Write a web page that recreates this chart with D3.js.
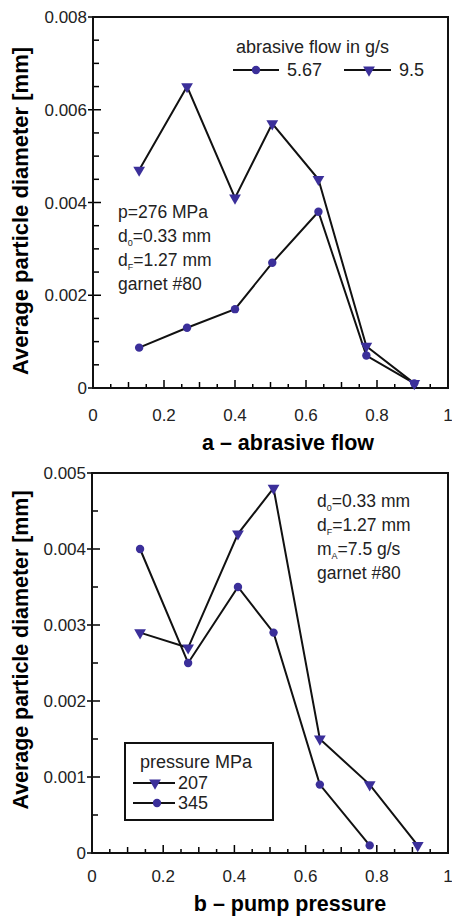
<!DOCTYPE html>
<html>
<head>
<meta charset="utf-8">
<script src="https://cdn.jsdelivr.net/npm/d3@7"></script>
<style>
  html, body { margin: 0; padding: 0; background: #fff; }
  svg { display: block; font-family: Arial, "Liberation Sans", Helvetica, sans-serif; }
</style>
</head>
<body>
<svg id="chart" width="452" height="916"></svg>
<script>
// ---------- data ----------
const xTicks = [0, 0.2, 0.4, 0.6, 0.8, 1];
const xTickLabels = ["0", "0.2", "0.4", "0.6", "0.8", "1"];

// chart a – abrasive flow
const xA = [0.13, 0.265, 0.4, 0.505, 0.635, 0.77, 0.905];
const flow567 = [0.00087, 0.0013, 0.0017, 0.0027, 0.0038, 0.0007, 0.0001];
const flow95  = [0.0047, 0.0065, 0.0041, 0.0057, 0.0045, 0.0009, 0.0001];
const yTicksA = [0, 0.002, 0.004, 0.006, 0.008];
const yTickLabelsA = ["0", "0.002", "0.004", "0.006", "0.008"];
const legendA = ["5.67", "9.5"];

// chart b – pump pressure
const xB = [0.135, 0.27, 0.41, 0.51, 0.64, 0.78, 0.915];
const press207 = [0.0029, 0.0027, 0.0042, 0.0048, 0.0015, 0.0009, 0.0001];
const press345 = [0.0040, 0.0025, 0.0035, 0.0029, 0.0009, 0.0001];
const yTicksB = [0, 0.001, 0.002, 0.003, 0.004, 0.005];
const yTickLabelsB = ["0", "0.001", "0.002", "0.003", "0.004", "0.005"];
const legendB = ["207", "345"];

// ---------- drawing ----------
const svg = d3.select("#chart");
const MARK = "#3b2f9a";
const triSym = d3.symbol().type(d3.symbolTriangle).size(60);
const cirR = 4.2;

function drawTri(g, x, y) {
  g.append("path").attr("d", triSym())
    .attr("transform", `translate(${x},${y}) rotate(180)`)
    .attr("fill", MARK);
}
function drawCir(g, x, y) {
  g.append("circle").attr("cx", x).attr("cy", y).attr("r", cirR).attr("fill", MARK);
}

function panel(opt) {
  const g = svg.append("g");
  const x = d3.scaleLinear().domain([0, 1]).range([opt.left, opt.right]);
  const y = d3.scaleLinear().domain([0, opt.ymax]).range([opt.bottom, opt.top]);

  // minor/major x ticks (inward)
  const xMinor = d3.range(0, 1.0001, 0.05);
  g.append("g").selectAll("line").data(xMinor).join("line")
    .attr("x1", d => x(d)).attr("x2", d => x(d))
    .attr("y1", opt.bottom)
    .attr("y2", (d, i) => opt.bottom - (i % 4 === 0 ? 8 : (i % 2 === 0 ? 6 : 4)))
    .attr("stroke", "#000").attr("stroke-width", 1.5);

  // y ticks
  const yMinor = d3.range(0, opt.ymax + 1e-9, 0.0005);
  const majorStep = opt.ymajor;
  const isMajor = d => Math.abs(d / majorStep - Math.round(d / majorStep)) < 1e-6;
  g.append("g").selectAll("line").data(yMinor).join("line")
    .attr("x1", d => isMajor(d) ? opt.left - 5 : opt.left)
    .attr("x2", d => opt.left + (isMajor(d) ? 8 : 6))
    .attr("y1", d => y(d)).attr("y2", d => y(d))
    .attr("stroke", "#000").attr("stroke-width", 1.5);

  // frame
  g.append("rect")
    .attr("x", opt.left).attr("y", opt.top)
    .attr("width", opt.right - opt.left).attr("height", opt.bottom - opt.top)
    .attr("fill", "none").attr("stroke", "#111").attr("stroke-width", 2);

  // tick labels
  g.append("g").selectAll("text").data(xTicks).join("text")
    .attr("x", d => x(d)).attr("y", opt.bottom + opt.xLabOff)
    .attr("text-anchor", "middle").attr("font-size", 17).attr("fill", "#222")
    .text((d, i) => xTickLabels[i]);
  g.append("g").selectAll("text").data(opt.yTicks).join("text")
    .attr("x", opt.left - 6).attr("y", d => y(d) + 6)
    .attr("text-anchor", "end").attr("font-size", 17).attr("fill", "#222")
    .text((d, i) => opt.yLabels[i]);

  // axis titles
  g.append("text")
    .attr("x", opt.xTitleX).attr("y", opt.xTitleY)
    .attr("text-anchor", "middle").attr("font-size", 21.5).attr("font-weight", "bold")
    .text(opt.xTitle);
  g.append("text")
    .attr("transform", `translate(28,${opt.yTitleY}) rotate(-90)`)
    .attr("text-anchor", "middle").attr("font-size", opt.yTitleSize).attr("font-weight", "bold")
    .text("Average particle diameter [mm]");

  // series
  const line = d3.line().x(d => x(d[0])).y(d => y(d[1]));
  opt.series.forEach(s => {
    const pts = s.values.map((v, i) => [s.xs[i], v]);
    g.append("path").datum(pts).attr("d", line)
      .attr("fill", "none").attr("stroke", "#111").attr("stroke-width", 2);
  });
  opt.series.forEach(s => {
    s.values.forEach((v, i) => {
      if (s.shape === "tri") drawTri(g, x(s.xs[i]), y(v));
      else drawCir(g, x(s.xs[i]), y(v));
    });
  });
  return { g, x, y };
}

// ---- panel a ----
const A = panel({
  left: 93, right: 448, top: 17, bottom: 388, ymax: 0.008, ymajor: 0.002,
  yTicks: yTicksA, yLabels: yTickLabelsA, xLabOff: 33,
  xTitle: "a – abrasive flow", xTitleX: 288, xTitleY: 450,
  yTitleY: 211, yTitleSize: 22,
  series: [
    { values: flow567, xs: xA, shape: "cir" },
    { values: flow95, xs: xA, shape: "tri" }
  ]
});

// annotation
function annot(g, x0, y0, lines) {
  lines.forEach((ln, i) => {
    const t = g.append("text").attr("x", x0).attr("y", y0 + i * 24)
      .attr("font-size", 17.5).attr("fill", "#222");
    ln.forEach(part => {
      const ts = t.append("tspan").text(part.t);
      if (part.sub) ts.attr("font-size", 9).attr("baseline-shift", "-4");
    });
  });
}
annot(A.g, 118, 218, [
  [{ t: "p=276 MPa" }],
  [{ t: "d" }, { t: "0", sub: true }, { t: "=0.33 mm" }],
  [{ t: "d" }, { t: "F", sub: true }, { t: "=1.27 mm" }],
  [{ t: "garnet #80" }]
]);

// legend a
A.g.append("text").attr("x", 236).attr("y", 53).attr("font-size", 18).attr("fill", "#222")
  .text("abrasive flow in g/s");
[[233, 279, 256, "cir", 287], [344, 391, 369, "tri", 399]].forEach((c, i) => {
  A.g.append("line").attr("x1", c[0]).attr("x2", c[1]).attr("y1", 70).attr("y2", 70)
    .attr("stroke", "#111").attr("stroke-width", 2);
  if (c[3] === "tri") drawTri(A.g, c[2], 70); else drawCir(A.g, c[2], 70);
  A.g.append("text").attr("x", c[4]).attr("y", 76).attr("font-size", 18).attr("fill", "#222")
    .text(legendA[i]);
});

// ---- panel b ----
const B = panel({
  left: 92, right: 448, top: 473, bottom: 853, ymax: 0.005, ymajor: 0.001,
  yTicks: yTicksB, yLabels: yTickLabelsB, xLabOff: 29,
  xTitle: "b – pump pressure", xTitleX: 290, xTitleY: 911,
  yTitleY: 650, yTitleSize: 21.4,
  series: [
    { values: press207, xs: xB, shape: "tri" },
    { values: press345, xs: xB, shape: "cir" }
  ]
});

annot(B.g, 317, 507, [
  [{ t: "d" }, { t: "0", sub: true }, { t: "=0.33 mm" }],
  [{ t: "d" }, { t: "F", sub: true }, { t: "=1.27 mm" }],
  [{ t: "m" }, { t: "A", sub: true }, { t: "=7.5 g/s" }],
  [{ t: "garnet #80" }]
]);

// legend b (boxed)
B.g.append("rect").attr("x", 125).attr("y", 743).attr("width", 148).attr("height", 77)
  .attr("fill", "#fff").attr("stroke", "#111").attr("stroke-width", 2);
B.g.append("text").attr("x", 140).attr("y", 768).attr("font-size", 18).attr("fill", "#222")
  .text("pressure MPa");
[[783, "tri"], [803, "cir"]].forEach((r, i) => {
  B.g.append("line").attr("x1", 133).attr("x2", 175).attr("y1", r[0]).attr("y2", r[0])
    .attr("stroke", "#111").attr("stroke-width", 2);
  if (r[1] === "tri") drawTri(B.g, 155, r[0]); else drawCir(B.g, 157, r[0]);
  B.g.append("text").attr("x", 178).attr("y", r[0] + 6).attr("font-size", 18).attr("fill", "#222")
    .text(legendB[i]);
});
</script>
</body>
</html>
